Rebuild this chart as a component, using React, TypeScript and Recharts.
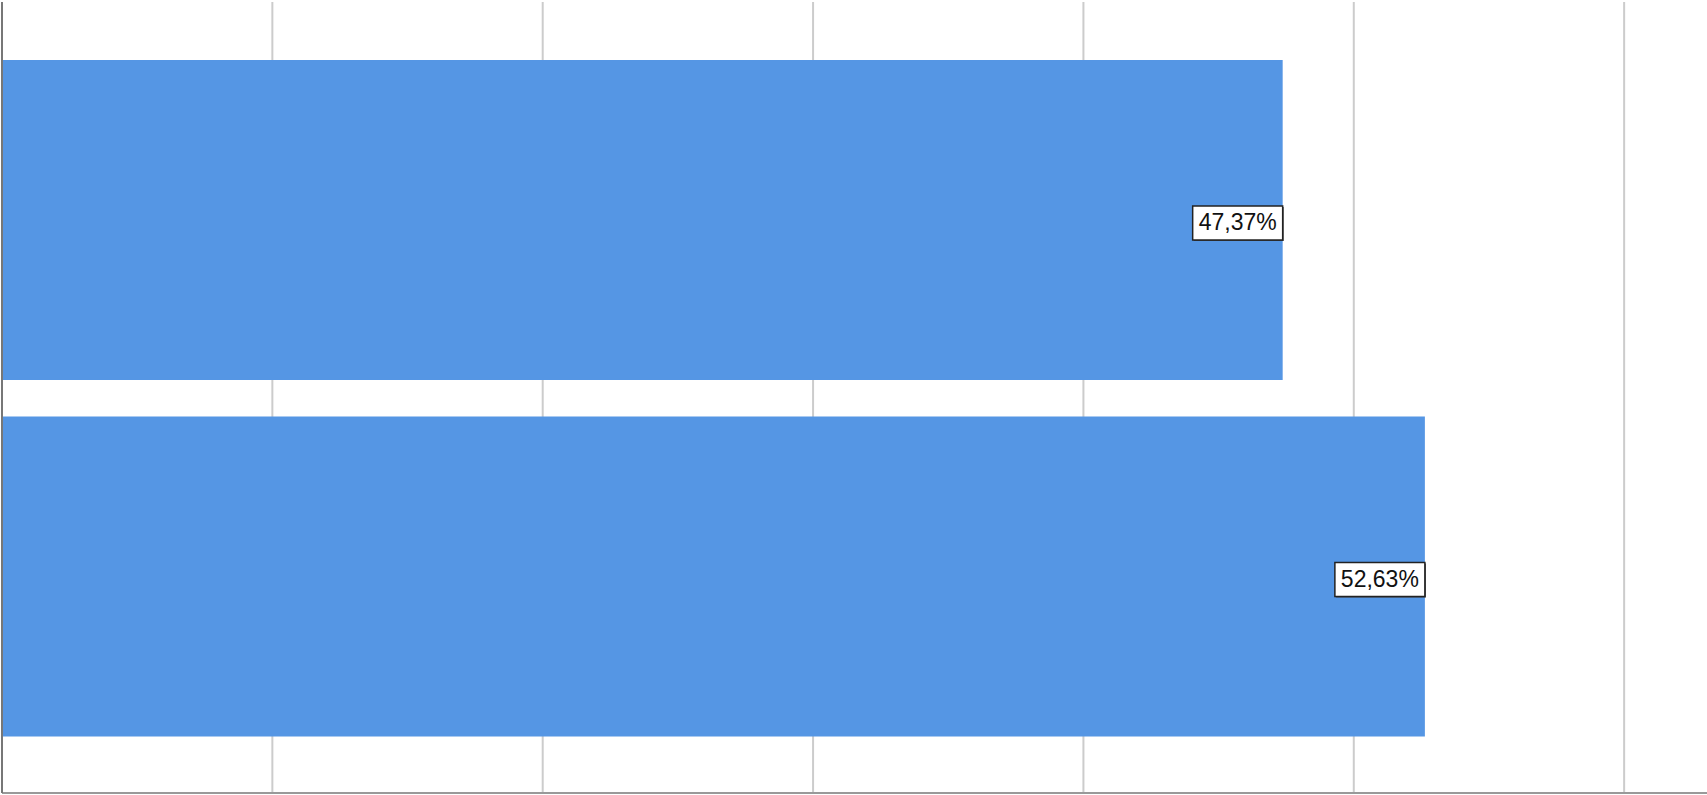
import type { ReactElement } from 'react'
import { BarChart, Bar, XAxis, YAxis, CartesianGrid, LabelList } from 'recharts'

// Values (percent)
const categories = ['Grupo 1', 'Grupo 2']
const percentages = [47.37, 52.63]
const xTicks = [0, 10, 20, 30, 40, 50, 60]

const BAR_COLOR = '#5596e4'

const data = categories.map((name, i) => ({ name, value: percentages[i] }))

const formatPct = (v: number) => `${v.toFixed(2).replace('.', ',')}%`

// Boxed value label, right-aligned against the bar end
const BoxLabel = (props: any): ReactElement => {
  const { x, y, width, height, value } = props
  const boxW = 90
  const boxH = 34
  const right = x + width
  const cy = y + height / 2 + 3
  return (
    <g>
      <rect x={right - boxW + 1} y={cy - boxH / 2 + 1} width={boxW} height={boxH} fill="#444" />
      <rect x={right - boxW} y={cy - boxH / 2} width={boxW} height={boxH} fill="#fff" stroke="#222" strokeWidth={1.5} />
      <text
        x={right - boxW / 2}
        y={cy + 1}
        textAnchor="middle"
        dominantBaseline="middle"
        fontFamily="'Liberation Sans', Arial, sans-serif"
        fontSize={23}
        fill="#111"
      >
        {formatPct(value)}
      </text>
    </g>
  )
}

// ticks exist only to place the grid lines; nothing is drawn for them
const NoTick = () => <g />

export default function App(): ReactElement {
  // the chart is a little wider than the frame so the grid's closing line at the domain end is cut off
  return (
    <div style={{ position: 'absolute', left: 0, top: 0, width: 1707, height: 795, overflow: 'hidden', background: '#fff' }}>
      <BarChart
        width={1712}
        height={795}
        data={data}
        layout="vertical"
        margin={{ top: 2, right: 0, left: 1, bottom: 1 }}
      >
        <CartesianGrid horizontal={false} stroke="#cccccc" strokeWidth={2} />
        <XAxis
          type="number"
          domain={[0, 63.25]}
          ticks={xTicks}
          tick={NoTick}
          tickLine={false}
          height={1}
          interval={0}
          axisLine={{ stroke: '#999', strokeWidth: 2 }}
        />
        <YAxis
          type="category"
          dataKey="name"
          tick={false}
          tickLine={false}
          width={1}
          padding={{ top: 40, bottom: 38 }}
          axisLine={{ stroke: '#777', strokeWidth: 2 }}
        />
        <Bar dataKey="value" fill={BAR_COLOR} barSize={320} isAnimationActive={false}>
          <LabelList dataKey="value" content={BoxLabel} />
        </Bar>
      </BarChart>
    </div>
  )
}
